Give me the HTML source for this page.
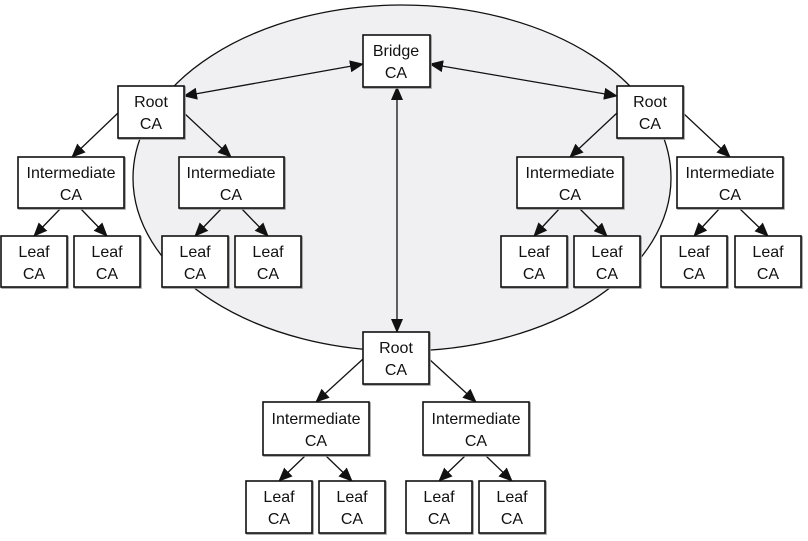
<!DOCTYPE html>
<html><head><style>body{margin:0;background:#fff}svg{display:block}text{font-family:"Liberation Sans",sans-serif;font-size:16px;fill:#111}</style></head><body>
<svg width="808" height="541" viewBox="0 0 808 541">
<defs><marker id="a" markerWidth="14" markerHeight="12" refX="13" refY="6" orient="auto" markerUnits="userSpaceOnUse"><path d="M0,0L14,6L0,12z" fill="#111"/></marker>
<marker id="b" markerWidth="14" markerHeight="12" refX="1" refY="6" orient="auto" markerUnits="userSpaceOnUse"><path d="M14,0L0,6L14,12z" fill="#111"/></marker></defs>
<ellipse cx="402" cy="178" rx="269" ry="173" fill="#f0f0f2" stroke="#111" stroke-width="1.3"/>
<g stroke="#111" stroke-width="1.3" marker-end="url(#a)">
<line x1="184" y1="96" x2="363" y2="64" marker-start="url(#b)"/>
<line x1="430" y1="64" x2="617" y2="96" marker-start="url(#b)"/>
<line x1="397" y1="87" x2="397" y2="332" marker-start="url(#b)"/>
<line x1="118" y1="113" x2="72" y2="157"/><line x1="184" y1="113" x2="231" y2="157"/>
<line x1="61" y1="208" x2="34" y2="236"/><line x1="80" y1="208" x2="107" y2="236"/>
<line x1="222" y1="208" x2="195" y2="236"/><line x1="241" y1="208" x2="268" y2="236"/>
<line x1="617" y1="113" x2="570" y2="157"/><line x1="683" y1="113" x2="730" y2="157"/>
<line x1="560" y1="208" x2="534" y2="236"/><line x1="579" y1="208" x2="607" y2="236"/>
<line x1="720" y1="208" x2="694" y2="236"/><line x1="739" y1="208" x2="768" y2="236"/>
<line x1="363" y1="359" x2="316" y2="402"/><line x1="429" y1="359" x2="476" y2="402"/>
<line x1="306" y1="455" x2="279" y2="481"/><line x1="325" y1="455" x2="352" y2="481"/>
<line x1="466" y1="455" x2="439" y2="481"/><line x1="485" y1="455" x2="512" y2="481"/>
</g>
<g fill="#fff" stroke="#111" stroke-width="1.6" style="filter:drop-shadow(1px 1px 0 #999)">
<rect x="363" y="35" width="67" height="52"/>
<rect x="118" y="86" width="66" height="52"/><rect x="617" y="86" width="66" height="52"/>
<rect x="18" y="157" width="106" height="51"/><rect x="179" y="157" width="105" height="51"/>
<rect x="517" y="157" width="106" height="51"/><rect x="677" y="157" width="106" height="51"/>
<rect x="1" y="236" width="66" height="51"/><rect x="74" y="236" width="66" height="51"/>
<rect x="162" y="236" width="66" height="51"/><rect x="235" y="236" width="66" height="51"/>
<rect x="501" y="236" width="66" height="51"/><rect x="574" y="236" width="66" height="51"/>
<rect x="661" y="236" width="66" height="51"/><rect x="735" y="236" width="66" height="51"/>
<rect x="363" y="332" width="66" height="52"/>
<rect x="263" y="402" width="106" height="53"/><rect x="423" y="402" width="106" height="53"/>
<rect x="246" y="481" width="66" height="52"/><rect x="319" y="481" width="66" height="52"/>
<rect x="406" y="481" width="66" height="52"/><rect x="479" y="481" width="66" height="52"/>
</g>
<g text-anchor="middle">
<text x="396" y="56">Bridge</text><text x="396" y="78">CA</text>
<text x="151" y="107">Root</text><text x="151" y="129">CA</text>
<text x="650" y="107">Root</text><text x="650" y="129">CA</text>
<text x="396" y="353">Root</text><text x="396" y="375">CA</text>
<text x="71" y="178">Intermediate</text><text x="71" y="200">CA</text>
<text x="231" y="178">Intermediate</text><text x="231" y="200">CA</text>
<text x="570" y="178">Intermediate</text><text x="570" y="200">CA</text>
<text x="730" y="178">Intermediate</text><text x="730" y="200">CA</text>
<text x="316" y="424">Intermediate</text><text x="316" y="446">CA</text>
<text x="476" y="424">Intermediate</text><text x="476" y="446">CA</text>
<text x="34" y="257">Leaf</text><text x="34" y="279">CA</text>
<text x="107" y="257">Leaf</text><text x="107" y="279">CA</text>
<text x="195" y="257">Leaf</text><text x="195" y="279">CA</text>
<text x="268" y="257">Leaf</text><text x="268" y="279">CA</text>
<text x="534" y="257">Leaf</text><text x="534" y="279">CA</text>
<text x="607" y="257">Leaf</text><text x="607" y="279">CA</text>
<text x="694" y="257">Leaf</text><text x="694" y="279">CA</text>
<text x="768" y="257">Leaf</text><text x="768" y="279">CA</text>
<text x="279" y="502">Leaf</text><text x="279" y="524">CA</text>
<text x="352" y="502">Leaf</text><text x="352" y="524">CA</text>
<text x="439" y="502">Leaf</text><text x="439" y="524">CA</text>
<text x="512" y="502">Leaf</text><text x="512" y="524">CA</text>
</g>
</svg></body></html>
